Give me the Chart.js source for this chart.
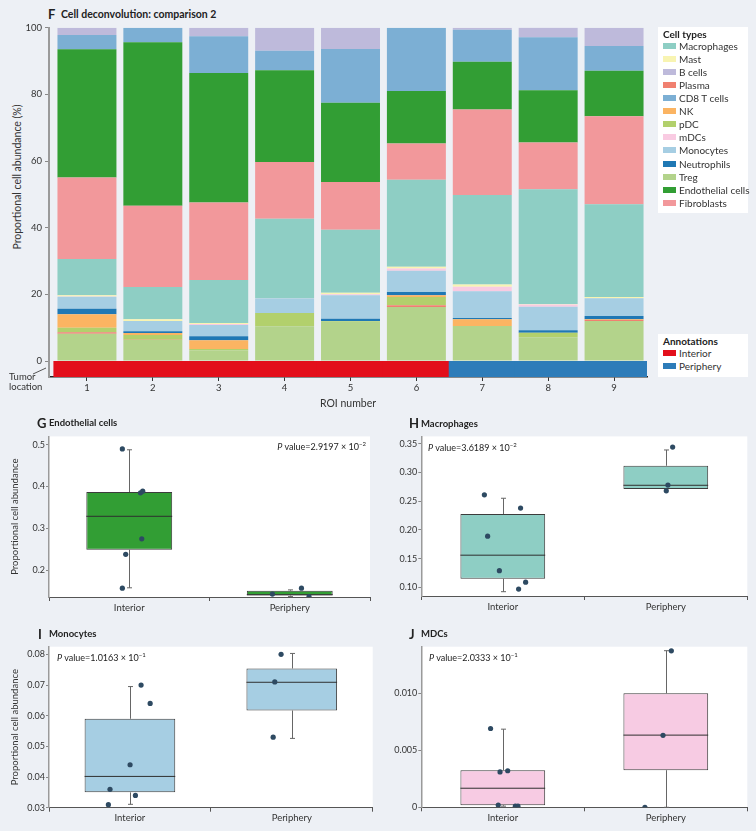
<!DOCTYPE html>
<html>
<head>
<meta charset="utf-8">
<script src="https://cdn.jsdelivr.net/npm/chart.js@4.4.1/dist/chart.umd.min.js"></script>
<style>
  body { margin: 0; background: #edf0f5; font-family: Lato, 'Open Sans', sans-serif; color: #222; }
  #page { position: relative; width: 756px; height: 831px; overflow: hidden; }
  .wrap { position: absolute; }
  .letter { position: absolute; font-weight: bold; font-size: 13px; line-height: 14px; }
  .ptitle { position: absolute; font-weight: bold; font-size: 9.5px; line-height: 12px; }
  .pval { position: absolute; font-size: 9px; line-height: 12px; color: #222; white-space: nowrap; }
  .pval sup { font-size: 6px; vertical-align: 4px; line-height: 0; }
  .legend { position: absolute; background: #fff; font-size: 10px; color: #333; }
  .legend .lt { position: absolute; left: 5px; font-weight: bold; color: #222; line-height: 13px; }
  .legend .li { position: absolute; left: 5px; line-height: 13px; white-space: nowrap; }
  .legend .sw { display: inline-block; width: 13px; height: 6px; margin-right: 3px; vertical-align: 1px; }
  .ytitle { position: absolute; width: 220px; text-align: center; font-size: 10.5px; transform: rotate(-90deg); color: #333; }
  .tumor { position: absolute; left: 9px; top: 372px; font-size: 9.5px; line-height: 9.5px; color: #333; }
</style>
</head>
<body>
<div id="page">
  <div class="letter" style="left:48px; top:7px;">F</div>
  <div class="ptitle" style="left:61px; top:8px; font-size:10.5px;">Cell deconvolution: comparison 2</div>
  <div class="ytitle" style="left:-93px; top:171px;">Proportional cell abundance (%)</div>
  <div class="wrap" style="left:0; top:0; width:756px; height:415px;"><canvas id="cF"></canvas></div>
  <div class="tumor">Tumor<br>location</div>
  <svg style="position:absolute; left:32px; top:366px;" width="18" height="10"><line x1="1" y1="8" x2="14" y2="2" stroke="#555" stroke-width="1"/></svg>
  <div id="legTypes" class="legend" style="left:658px; top:27px; width:90px; height:186px;"></div>
  <div id="legAnn" class="legend" style="left:658px; top:334px; width:90px; height:43px;"></div>

  <div class="letter" style="left:37px; top:416px;">G</div>
  <div class="ptitle" style="left:49px; top:417px;">Endothelial cells</div>
  <div class="wrap" style="left:0; top:430px; width:378px; height:200px;"><canvas id="cG"></canvas></div>
  <div class="pval" style="right:390px; top:441px;"><i>P</i> value=2.9197 × 10<sup>−2</sup></div>

  <div class="letter" style="left:409px; top:416px;">H</div>
  <div class="ptitle" style="left:421px; top:418px;">Macrophages</div>
  <div class="wrap" style="left:378px; top:430px; width:378px; height:200px;"><canvas id="cH"></canvas></div>
  <div class="pval" style="left:428px; top:442px;"><i>P</i> value=3.6189 × 10<sup>−2</sup></div>

  <div class="letter" style="left:38px; top:627px;">I</div>
  <div class="ptitle" style="left:49px; top:628px;">Monocytes</div>
  <div class="wrap" style="left:0; top:640px; width:378px; height:191px;"><canvas id="cI"></canvas></div>
  <div class="pval" style="left:57px; top:652px;"><i>P</i> value=1.0163 × 10<sup>−1</sup></div>

  <div class="letter" style="left:409px; top:627px;">J</div>
  <div class="ptitle" style="left:421px; top:628px;">MDCs</div>
  <div class="wrap" style="left:378px; top:640px; width:378px; height:191px;"><canvas id="cJ"></canvas></div>
  <div class="pval" style="left:429px; top:652px;"><i>P</i> value=2.0333 × 10<sup>−1</sup></div>
</div>
<script>
// ROI layout
const roiNumbers = [1, 2, 3, 4, 5, 6, 7, 8, 9];
const roiLocation = ['Interior', 'Interior', 'Interior', 'Interior', 'Interior', 'Interior', 'Periphery', 'Periphery', 'Periphery'];
const locations = ['Interior', 'Periphery'];

// proportional cell abundance (%) per ROI
const treg        = [8.2, 6.3, 3.2, 10.4, 11.8, 16.2, 10.5, 7.1, 12.0];
const plasma      = [0.4, 0.1, 0, 0, 0, 0.5, 0, 0, 0.3];
const pdc         = [1.4, 1.4, 0.4, 4.0, 0.2, 2.5, 0, 1.4, 0];
const nk          = [4.0, 0.6, 2.6, 0, 0, 0.5, 2.0, 0, 0.2];
const neutrophils = [1.7, 0.5, 1.2, 0, 0.7, 1.0, 0.4, 0.7, 1.0];
const monocytes   = [3.6, 3.1, 3.4, 4.4, 7.0, 6.4, 8.0, 7.1, 5.3];
const mdcs        = [0.02, 0.01, 0.32, 0.01, 0.31, 0.69, 1.37, 0.63, 0];
const mast        = [0.4, 0.5, 0.3, 0.1, 0.5, 0.5, 0.7, 0.2, 0.4];
const macrophages = [10.9, 9.7, 12.9, 23.8, 18.9, 26.1, 26.8, 34.4, 27.8];
const fibroblasts = [24.4, 24.4, 23.2, 17.0, 14.3, 10.9, 25.7, 14.0, 26.4];
const endothelial = [38.5, 49.0, 38.9, 27.5, 23.8, 15.7, 14.3, 15.7, 13.7];
const cd8t        = [4.3, 4.4, 11.0, 5.9, 16.1, 19.0, 9.6, 15.9, 7.4];
const bcells      = [2.2, 0, 2.6, 6.9, 6.4, 0, 0.6, 2.9, 5.5];

const yTicksF = ['0', '20', '40', '60', '80', '100'];
const stripDepth = 4.8; // annotation strip below 0

// box plot stats [whisker low, q1, median, q3, whisker high] for Interior / Periphery
const endoStats  = [[0.158, 0.249, 0.329, 0.387, 0.488], [0.137, 0.1395, 0.1415, 0.151, 0.153]];
const macroStats = [[0.0925, 0.115, 0.156, 0.2276, 0.255], [0.2713, 0.2713, 0.2776, 0.3115, 0.339]];
const monoStats  = [[0.0311, 0.035, 0.0402, 0.059, 0.0695], [0.0526, 0.0617, 0.0709, 0.0754, 0.0803]];
const mdcStats   = [[0.0001, 0.00018, 0.00167, 0.00325, 0.00684], [0, 0.00325, 0.00632, 0.00998, 0.01371]];

// horizontal jitter of the dots, per ROI
const endoJitter  = [0.07, -0.043, 0.084, 0.078, -0.022, -0.043, -0.108, 0.073, 0.12];
const macroJitter = [0.14, 0.097, -0.021, 0.109, -0.093, -0.113, 0.003, 0.042, 0.013];
const monoJitter  = [-0.123, -0.133, 0.034, 0.001, 0.069, 0.125, -0.066, -0.105, -0.115];
const mdcJitter   = [-0.028, 0.077, 0.03, 0.093, -0.017, -0.075, 0.034, -0.017, -0.128];

const endoTicks  = ['0.2', '0.3', '0.4', '0.5'];
const macroTicks = ['0.10', '0.15', '0.20', '0.25', '0.30', '0.35'];
const monoTicks  = ['0.03', '0.04', '0.05', '0.06', '0.07', '0.08'];
const mdcTicks   = ['0', '0.005', '0.010'];

const cellColors = {
  'Macrophages': '#8ecec4', 'Mast': '#f8f4b2', 'B cells': '#bebadb', 'Plasma': '#f08070',
  'CD8 T cells': '#7cafd4', 'NK': '#fbb462', 'pDC': '#b2d06c', 'mDCs': '#f9cbe2',
  'Monocytes': '#a6cee3', 'Neutrophils': '#1f78b4', 'Treg': '#b3d38b',
  'Endothelial cells': '#329e34', 'Fibroblasts': '#f2989b'
};
const locColors = { 'Interior': '#e30f1b', 'Periphery': '#2d7cb9' };
const legendOrder = ['Macrophages', 'Mast', 'B cells', 'Plasma', 'CD8 T cells', 'NK', 'pDC', 'mDCs', 'Monocytes', 'Neutrophils', 'Treg', 'Endothelial cells', 'Fibroblasts'];

// bottom -> top
const stackOrder = [
  ['Treg', treg], ['Plasma', plasma], ['pDC', pdc], ['NK', nk], ['Neutrophils', neutrophils],
  ['Monocytes', monocytes], ['mDCs', mdcs], ['Mast', mast], ['Macrophages', macrophages],
  ['Fibroblasts', fibroblasts], ['Endothelial cells', endothelial], ['CD8 T cells', cd8t], ['B cells', bcells]
];

Chart.defaults.font.family = "Lato, 'Open Sans', sans-serif";
Chart.defaults.color = '#333';

// legends
function buildLegend(el, title, names, colors) {
  let html = '<div class="lt" style="top:1px">' + title + '</div>';
  names.forEach((n, i) => {
    html += '<div class="li" style="top:' + (13 + i * 13.06) + 'px"><span class="sw" style="background:' + colors[n] + '"></span>' + n + '</div>';
  });
  el.innerHTML = html;
}
buildLegend(document.getElementById('legTypes'), 'Cell types', legendOrder, cellColors);
buildLegend(document.getElementById('legAnn'), 'Annotations', locations, locColors);

// F: stacked composition
new Chart(document.getElementById('cF'), {
  type: 'bar',
  data: {
    labels: roiNumbers,
    datasets: [
      {
        label: 'Tumor location',
        data: roiNumbers.map(() => -stripDepth),
        backgroundColor: roiLocation.map(l => locColors[l]),
        barPercentage: 1,
        categoryPercentage: 1,
        inflateAmount: 0.6
      },
      ...stackOrder.map(([name, values]) => ({
        label: name,
        data: values,
        backgroundColor: cellColors[name],
        barPercentage: 0.895,
        categoryPercentage: 1
      }))
    ]
  },
  options: {
    responsive: true,
    maintainAspectRatio: false,
    animation: false,
    layout: { padding: { top: 27.7, right: 109, left: 0, bottom: 0 } },
    plugins: { legend: { display: false }, tooltip: { enabled: false } },
    scales: {
      x: {
        type: 'linear',
        min: 0.424,
        max: 9.5,
        stacked: true,
        offset: false,
        afterBuildTicks: s => { s.ticks = roiNumbers.map(v => ({ value: v })); },
        afterFit: s => { s.height = 38; },
        grid: { offset: false, drawOnChartArea: false, tickLength: 4, tickColor: '#333' },
        border: { color: '#222', width: 1.5 },
        ticks: { font: { size: 9.5 }, padding: 1, color: '#333', autoSkip: false, maxRotation: 0 },
        title: { display: true, text: 'ROI number', font: { size: 10.5 }, color: '#333', padding: { top: 0, bottom: 5 } }
      },
      y: {
        min: -stripDepth,
        max: 100,
        stacked: true,
        afterBuildTicks: s => { s.ticks = yTicksF.map(v => ({ value: Number(v) })); },
        afterFit: s => { s.width = 49; },
        grid: { drawOnChartArea: false, tickLength: 4, tickColor: '#888' },
        border: { color: '#9a9a9a', width: 2 },
        ticks: { font: { size: 9.5 }, padding: 3, color: '#333', callback: (v, i) => yTicksF[i] }
      }
    }
  }
});

// box plot panels
const whiteArea = {
  id: 'whiteArea',
  beforeDraw(chart) {
    const { ctx, chartArea: a } = chart;
    ctx.save();
    ctx.fillStyle = '#fff';
    ctx.fillRect(a.left, a.top, a.right - a.left, a.bottom - a.top);
    ctx.restore();
  }
};

const boxDecor = {
  id: 'boxDecor',
  afterDatasetDraw(chart, args, opts) {
    if (args.meta.type !== 'bar') return;
    const ctx = chart.ctx;
    const ys = chart.scales.y;
    const py = v => ys.getPixelForValue(v);
    ctx.save();
    ctx.lineWidth = 1;
    args.meta.data.forEach((bar, i) => {
      const [lo, q1, med, q3, hi] = opts.stats[i];
      const x = Math.round(bar.x) + 0.5;
      const half = bar.width / 2;
      ctx.strokeStyle = '#666';
      ctx.beginPath();
      if (hi > q3) {
        ctx.moveTo(x, py(q3)); ctx.lineTo(x, py(hi));
        ctx.moveTo(x - 2.5, py(hi)); ctx.lineTo(x + 2.5, py(hi));
      }
      if (lo < q1) {
        ctx.moveTo(x, py(q1)); ctx.lineTo(x, py(lo));
        ctx.moveTo(x - 2.5, py(lo)); ctx.lineTo(x + 2.5, py(lo));
      }
      ctx.stroke();
      ctx.strokeStyle = '#2f2f2f';
      ctx.beginPath();
      ctx.moveTo(bar.x - half, py(med)); ctx.lineTo(bar.x + half, py(med));
      ctx.stroke();
    });
    ctx.restore();
  }
};

function boxPanel(id, o) {
  const points = o.values.map((v, i) => ({ x: locations.indexOf(roiLocation[i]) + o.jitter[i], y: v / 100 }));
  return new Chart(document.getElementById(id), {
    type: 'bar',
    data: {
      datasets: [
        { type: 'scatter', data: points, backgroundColor: '#2e4a62', pointRadius: 2.6, pointHoverRadius: 2.6, pointBorderWidth: 0 },
        {
          type: 'bar',
          data: o.stats.map((s, i) => ({ x: i, y: [s[1], s[3]] })),
          backgroundColor: o.fill,
          borderColor: '#3c3c3c',
          borderWidth: 1,
          borderSkipped: false,
          // the x ticks sit every half group, so the bar ruler measures half a group
          barPercentage: o.boxWidth * 2,
          categoryPercentage: 1
        }
      ]
    },
    options: {
      responsive: true,
      maintainAspectRatio: false,
      animation: false,
      layout: { padding: o.pad },
      plugins: { legend: { display: false }, tooltip: { enabled: false }, boxDecor: { stats: o.stats } },
      scales: {
        x: {
          type: 'linear',
          min: -0.5,
          max: 1.5,
          offset: false,
          afterBuildTicks: s => { s.ticks = [-0.5, 0, 0.5, 1, 1.5].map(v => ({ value: v })); },
          afterFit: s => { s.height = o.xHeight; },
          grid: {
            offset: false, drawOnChartArea: false, tickLength: 4,
            tickColor: c => (c.tick && Number.isInteger(c.tick.value)) ? 'rgba(0,0,0,0)' : '#555'
          },
          border: { color: '#555', width: 1 },
          ticks: { autoSkip: false, maxRotation: 0, padding: 1, font: { size: 9.5 }, color: '#333',
                   callback: v => Number.isInteger(v) ? locations[v] : '' }
        },
        y: {
          min: o.yMin,
          max: o.yMax,
          afterBuildTicks: s => { s.ticks = o.yTicks.map(v => ({ value: Number(v) })); },
          afterFit: s => { s.width = o.yWidth; },
          grid: { drawOnChartArea: false, tickLength: 3, tickColor: '#888' },
          border: { color: '#9a9a9a', width: 1.5 },
          ticks: { padding: 1, font: { size: 9 }, color: '#333', callback: (v, i) => o.yTicks[i] },
          title: { display: !!o.yTitle, text: o.yTitle, font: { size: 9.5 }, color: '#333', padding: { top: 9 } }
        }
      }
    },
    plugins: [whiteArea, boxDecor]
  });
}

boxPanel('cG', { values: endothelial, jitter: endoJitter, stats: endoStats, fill: '#329e34', boxWidth: 0.535,
  yMin: 0.136, yMax: 0.52, yTicks: endoTicks, yWidth: 49, yTitle: 'Proportional cell abundance',
  pad: { top: 5, right: 8, left: 0, bottom: 0 }, xHeight: 33 });
boxPanel('cH', { values: macrophages, jitter: macroJitter, stats: macroStats, fill: '#8ecec4', boxWidth: 0.52,
  yMin: 0.085, yMax: 0.3626, yTicks: macroTicks, yWidth: 43.3, yTitle: '',
  pad: { top: 5, right: 8.7, left: 0, bottom: 0 }, xHeight: 34 });
boxPanel('cI', { values: monocytes, jitter: monoJitter, stats: monoStats, fill: '#a6cee3', boxWidth: 0.56,
  yMin: 0.03, yMax: 0.0825, yTicks: monoTicks, yWidth: 49, yTitle: 'Proportional cell abundance',
  pad: { top: 6.7, right: 5.3, left: 0, bottom: 0 }, xHeight: 23.3 });
boxPanel('cJ', { values: mdcs, jitter: mdcJitter, stats: mdcStats, fill: '#f7cbe3', boxWidth: 0.52,
  yMin: 0, yMax: 0.01406, yTicks: mdcTicks, yWidth: 43.3, yTitle: '',
  pad: { top: 6.7, right: 8.7, left: 0, bottom: 0 }, xHeight: 23.7 });
</script>
</body>
</html>
